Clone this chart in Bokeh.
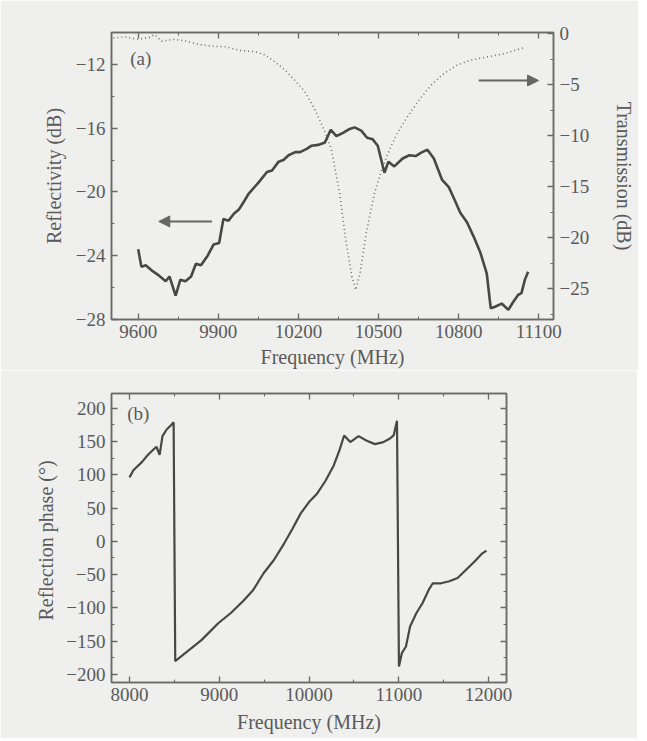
import math
from bokeh.plotting import figure
from bokeh.models import (LinearAxis, Range1d, SingleIntervalTicker, CustomJSTickFormatter,
                          Arrow, NormalHead, Label)
from bokeh.layouts import column
from bokeh.embed import file_html
from bokeh.resources import INLINE

# ---------------- data (a) ----------------
refl_freq = [9600, 9612, 9628, 9649, 9674, 9703, 9717, 9740, 9758, 9777,
             9798, 9816, 9835, 9860, 9882, 9903, 9919, 9938, 9959, 9977,
             9996, 10014, 10051, 10082, 10101, 10126, 10144, 10163, 10188, 10206,
             10231, 10249, 10274, 10299, 10321, 10342, 10367, 10392, 10410, 10435,
             10457, 10478, 10497, 10522, 10537, 10559, 10590, 10615, 10639, 10658,
             10683, 10707, 10738, 10763, 10782, 10806, 10831, 10856, 10881, 10905,
             10920, 10936, 10961, 10986, 11004, 11023, 11035, 11048, 11060]
refl_db = [-23.6, -24.7, -24.6, -24.9, -25.2, -25.6, -25.3, -26.5, -25.5, -25.6,
           -25.3, -24.5, -24.6, -24.0, -23.3, -23.2, -21.7, -21.8, -21.35, -21.1,
           -20.6, -20.1, -19.4, -18.75, -18.65, -18.1, -18.0, -17.7, -17.5, -17.5,
           -17.3, -17.1, -17.05, -16.9, -16.1, -16.5, -16.3, -16.05, -15.95, -16.15,
           -16.6, -16.7, -17.1, -18.8, -18.1, -18.4, -17.9, -17.7, -17.75, -17.55,
           -17.35, -17.9, -19.25, -19.7, -20.4, -21.3, -21.9, -22.8, -23.8, -25.1,
           -27.3, -27.2, -27.0, -27.4, -26.9, -26.45, -26.35, -25.5, -25.0]

trans_freq = [9507, 9557, 9594, 9637, 9662, 9687, 9736, 9779, 9829, 9878,
              9928, 9977, 10039, 10076, 10113, 10150, 10187, 10224, 10261, 10292,
              10323, 10354, 10377, 10400, 10415, 10431, 10454, 10485, 10509, 10534,
              10565, 10602, 10646, 10695, 10745, 10794, 10844, 10905, 10967, 11042]
trans_db = [-0.43, -0.33, -0.56, -0.43, -0.1, -0.75, -0.56, -0.75, -1.08, -1.25,
            -1.3, -1.64, -1.8, -2.1, -2.8, -3.6, -4.6, -5.7, -7.4, -9.2,
            -11.3, -15.6, -20.2, -23.8, -25.1, -23.4, -19.5, -15.6, -13.6, -11.8,
            -10.0, -8.4, -6.7, -5.1, -3.9, -3.1, -2.6, -2.3, -2.0, -1.4]

# ---------------- data (b) ----------------
phase_freq = [8000, 8046, 8138, 8207, 8276, 8300, 8336, 8368, 8414, 8460,
              8492, 8510, 8621, 8805, 8989, 9126, 9264, 9379, 9494, 9609,
              9724, 9816, 9908, 10000, 10092, 10184, 10276, 10345, 10391, 10460,
              10552, 10644, 10736, 10828, 10897, 10943, 10980, 11002, 11034, 11080,
              11126, 11195, 11264, 11333, 11379, 11471, 11563, 11655, 11747, 11839,
              11931, 11977]
phase_deg = [96, 107, 119, 130, 139, 142, 130, 158, 168, 174,
             179, -180, -168, -148, -123, -108, -90, -73, -48, -28,
             -3, 19, 42, 59, 72, 91, 114, 139, 159, 149,
             158, 151, 146, 149, 154, 159, 181, -188, -168, -158,
             -128, -108, -93, -73, -63, -63, -60, -55, -43, -31,
             -18, -14]

# annotation positions
left_arrow = (9876, 9677, -21.85)     # x_start, x_end, y (left axis)
right_arrow = (10875, 11099, -4.6)    # x_start, x_end, y (right axis)

BG = "#efefed"
INK = "#474747"
AX = "#6a6a6a"
TXT = "#5a5a5a"
FONT = "Liberation Serif"

minus_fmt = CustomJSTickFormatter(code="return tick.toString().replace('-', '\u2212');")
blank_fmt = CustomJSTickFormatter(code="return '';")


def style_axis(ax, show_labels=True):
    ax.axis_line_color = AX
    ax.axis_line_width = 1.5
    ax.major_tick_line_color = AX
    ax.minor_tick_line_color = AX
    ax.major_tick_line_width = 1.3
    ax.minor_tick_line_width = 1.1
    ax.major_tick_in = 6
    ax.major_tick_out = 0
    ax.minor_tick_in = 3
    ax.minor_tick_out = 0
    ax.major_label_text_font = FONT
    ax.major_label_text_font_size = "19px"
    ax.major_label_text_color = TXT
    ax.axis_label_text_font = FONT
    ax.axis_label_text_font_size = "20px"
    ax.axis_label_text_font_style = "normal"
    ax.axis_label_text_color = TXT
    if show_labels:
        ax.formatter = minus_fmt
    else:
        ax.formatter = blank_fmt
        ax.major_label_standoff = 0


def base_fig(fw, fh, left, right, top, bottom, xr, yr):
    p = figure(frame_width=fw, frame_height=fh,
               min_border_left=left, min_border_right=right,
               min_border_top=top, min_border_bottom=bottom,
               x_range=xr, y_range=yr,
               output_backend="svg", toolbar_location=None)
    p.background_fill_color = BG
    p.border_fill_color = BG
    p.outline_line_color = AX
    p.outline_line_width = 1.5
    p.xgrid.visible = False
    p.ygrid.visible = False
    return p


# ---------------- figure (a) ----------------
p1 = base_fig(442, 287, 111, 84, 32, 45, Range1d(9500, 11155), Range1d(-28, -10))
p1.extra_y_ranges = {"T": Range1d(-28, 0.1)}

p1.xaxis.ticker = SingleIntervalTicker(interval=300, num_minor_ticks=2)
p1.yaxis.ticker = SingleIntervalTicker(interval=4, num_minor_ticks=2)
p1.xaxis.axis_label = "Frequency (MHz)"
p1.yaxis.axis_label = "Reflectivity (dB)"
style_axis(p1.xaxis[0])
style_axis(p1.yaxis[0])
p1.xaxis.major_label_standoff = 5
p1.xaxis.axis_label_standoff = 5
p1.yaxis.major_label_standoff = 6
p1.yaxis.axis_label_standoff = 8

rax = LinearAxis(y_range_name="T", ticker=SingleIntervalTicker(interval=5, num_minor_ticks=2),
                 axis_label="Transmission (dB)")
style_axis(rax)
rax.major_label_standoff = 6
rax.axis_label_standoff = 21
p1.add_layout(rax, "right")

tax = LinearAxis(ticker=SingleIntervalTicker(interval=300, num_minor_ticks=2))
style_axis(tax, show_labels=False)
p1.add_layout(tax, "above")

p1.line(trans_freq, trans_db, y_range_name="T", line_color="#707070",
        line_width=1.6, line_dash="1 3")
p1.line(refl_freq, refl_db, line_color=INK, line_width=2.6)

p1.add_layout(Arrow(x_start=left_arrow[0], x_end=left_arrow[1],
                    y_start=left_arrow[2], y_end=left_arrow[2],
                    line_color="#666666", line_width=2,
                    end=NormalHead(size=11, fill_color="#666666", line_color="#666666")))
p1.add_layout(Arrow(x_start=right_arrow[0], x_end=right_arrow[1],
                    y_start=right_arrow[2], y_end=right_arrow[2], y_range_name="T",
                    line_color="#666666", line_width=2,
                    end=NormalHead(size=11, fill_color="#666666", line_color="#666666")))
p1.add_layout(Label(x=9570, y=-11.6, text="(a)", text_font=FONT, text_font_size="19px",
                    text_color=TXT, text_baseline="middle", text_align="left"))

# ---------------- figure (b) ----------------
p2 = base_fig(395, 289, 111, 131, 23, 56, Range1d(7800, 12200), Range1d(-212, 222))
p2.xaxis.ticker = SingleIntervalTicker(interval=1000, num_minor_ticks=2)
p2.yaxis.ticker = SingleIntervalTicker(interval=50, num_minor_ticks=2)
p2.xaxis.axis_label = "Frequency (MHz)"
p2.yaxis.axis_label = "Reflection  phase (°)"
style_axis(p2.xaxis[0])
style_axis(p2.yaxis[0])
p2.xaxis.major_label_standoff = 5
p2.xaxis.axis_label_standoff = 7
p2.yaxis.major_label_standoff = 6
p2.yaxis.axis_label_standoff = 6

tax2 = LinearAxis(ticker=SingleIntervalTicker(interval=1000, num_minor_ticks=2))
style_axis(tax2, show_labels=False)
p2.add_layout(tax2, "above")
rax2 = LinearAxis(ticker=SingleIntervalTicker(interval=50, num_minor_ticks=2))
style_axis(rax2, show_labels=False)
p2.add_layout(rax2, "right")

p2.line(phase_freq, phase_deg, line_color=INK, line_width=2.2)
p2.add_layout(Label(x=7975, y=192.5, text="(b)", text_font=FONT, text_font_size="19px",
                    text_color=TXT, text_baseline="middle", text_align="left"))

layout = column(p1, p2, spacing=0)
open("out.html", "w").write(file_html(layout, INLINE))
